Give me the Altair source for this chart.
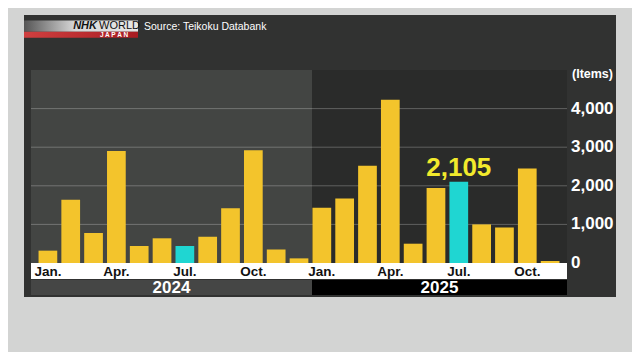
import altair as alt
import pandas as pd

# ---- data ----
keys = [f"2024-{m:02d}" for m in range(1, 13)] + [f"2025-{m:02d}" for m in range(1, 12)]
values_2024 = [320, 1640, 780, 2900, 440, 640, 440, 680, 1420, 2920, 350, 120]
values_2025 = [1430, 1670, 2520, 4230, 500, 1940, 2105, 1000, 920, 2450, 50]
highlight_keys = ["2024-07", "2025-07"]
month_label_keys = ["2024-01", "2024-04", "2024-07", "2024-10",
                    "2025-01", "2025-04", "2025-07", "2025-10"]
month_labels = ["Jan.", "Apr.", "Jul.", "Oct."] * 2
grid_values = [1000, 2000, 3000, 4000]
y_ticks = [0, 1000, 2000, 3000, 4000]
callout_key = "2025-07"
callout_value = 2105
callout_text = "2,105"
years = ["2024", "2025"]

values = values_2024 + values_2025
bars = pd.DataFrame({
    "key": keys,
    "value": values,
    "hl": [k in highlight_keys for k in keys],
})
mlabels = pd.DataFrame({"key": month_label_keys, "label": month_labels})
grid = pd.DataFrame({"v": grid_values})
ticks = pd.DataFrame({"v": y_ticks})
callout = pd.DataFrame({"key": [callout_key], "value": [callout_value], "t": [callout_text]})

NARROW = "Liberation Sans Narrow, Liberation Sans, Arial Narrow, sans-serif"
one = alt.Data(values=[{}])

xscale = alt.Scale(domain=keys, paddingInner=0.18, paddingOuter=0.33)
yscale = alt.Scale(domain=[0, 5000], nice=False)
X = alt.X("key:N", scale=xscale, axis=None)


def rect(x, x2, y, y2, color):
    return alt.Chart(one).mark_rect(color=color).encode(
        x=alt.value(x), x2=alt.value(x2), y=alt.value(y), y2=alt.value(y2))


def label(text, x, y, size, color, font=NARROW, weight="bold", align="center", style="normal"):
    return alt.Chart(one).mark_text(
        text=text, fontSize=size, font=font, fontWeight=weight, color=color,
        align=align, baseline="middle", fontStyle=style
    ).encode(x=alt.value(x), y=alt.value(y))


panel = rect(-7, 585, -55, 227, "#313231")
p2024 = rect(0, 281, 0, 193, "#434543")
p2025 = rect(281, 536, 0, 193, "#2a2b2a")
white_strip = rect(0, 536, 193, 209, "#ffffff")
y2024 = rect(0, 281, 210, 225, "#454645")
y2025 = rect(281, 536, 210, 225, "#000000")

logo_grad = alt.Gradient(
    gradient="linear", x1=0, x2=1, y1=0, y2=0,
    stops=[alt.GradientStop(color="#555555", offset=0),
           alt.GradientStop(color="#d8d8d8", offset=0.45),
           alt.GradientStop(color="#e6e6e6", offset=1)])
red_grad = alt.Gradient(
    gradient="linear", x1=0, x2=1, y1=0, y2=0,
    stops=[alt.GradientStop(color="#d04040", offset=0),
           alt.GradientStop(color="#a81c22", offset=1)])
logo_gray = alt.Chart(one).mark_rect(color=logo_grad).encode(
    x=alt.value(-7), x2=alt.value(107), y=alt.value(-49.5), y2=alt.value(-38.3))
logo_red = alt.Chart(one).mark_rect(color=red_grad).encode(
    x=alt.value(-7), x2=alt.value(107), y=alt.value(-38.3), y2=alt.value(-32.3))
nhk = label("NHK", 66, -44, 11, "#111111", font="Liberation Sans", weight="bold", align="right", style="italic")
world = label("WORLD", 68, -44, 11, "#111111", font="Liberation Sans", weight="normal", align="left")
japan = label("J A P A N", 83, -35.2, 6.5, "#ffffff", font="Liberation Sans", weight="bold")
source = label("Source: Teikoku Databank", 113, -43.5, 10.5, "#ffffff",
               font="Liberation Sans", weight="normal", align="left")
items = label("(Items)", 541, 4, 12.5, "#ffffff", align="left")
year1 = label(years[0], 140.5, 217.5, 17, "#ffffff")
year2 = label(years[1], 408.5, 217.5, 17, "#ffffff")

gridlines = alt.Chart(grid).mark_rule(color="#ffffff", opacity=0.25, strokeWidth=1).encode(
    y=alt.Y("v:Q", scale=yscale, axis=None), x=alt.value(0), x2=alt.value(536))

bar_layer = alt.Chart(bars).mark_bar().encode(
    x=X,
    y=alt.Y("value:Q", scale=yscale, axis=None),
    color=alt.condition("datum.hl", alt.value("#1fd6d2"), alt.value("#f3c42c")),
)

tick_labels = alt.Chart(ticks).transform_calculate(
    t="format(datum.v, ',')"
).mark_text(
    font=NARROW, fontSize=17, fontWeight="bold", color="#ffffff",
    align="left", baseline="middle"
).encode(x=alt.value(540), y=alt.Y("v:Q", scale=yscale, axis=None), text="t:N")

month_text = alt.Chart(mlabels).mark_text(
    font=NARROW, fontSize=13.5, fontWeight="bold", color="#111111", baseline="middle"
).encode(x=X, y=alt.value(201.5), text="label:N")

callout_layer = alt.Chart(callout).mark_text(
    font="Liberation Sans", fontSize=26, fontWeight="bold", color="#f2ea2c",
    baseline="alphabetic", dy=-6
).encode(x=X, y=alt.Y("value:Q", scale=yscale, axis=None), text="t:N")

chart = alt.layer(
    panel, p2024, p2025, gridlines, bar_layer, white_strip, month_text,
    y2024, y2025, year1, year2, callout_layer, items, tick_labels,
    logo_gray, logo_red, nhk, world, japan, source,
).resolve_scale(x="shared", y="shared").properties(
    width=536, height=193,
    autosize=alt.AutoSizeParams(type="none"),
    padding={"left": 23, "top": 62, "right": 65, "bottom": 89},
    background="#d3d4d3",
).configure_view(stroke=None)

chart.save("out.html", embed_options={"renderer": "svg", "actions": False})
